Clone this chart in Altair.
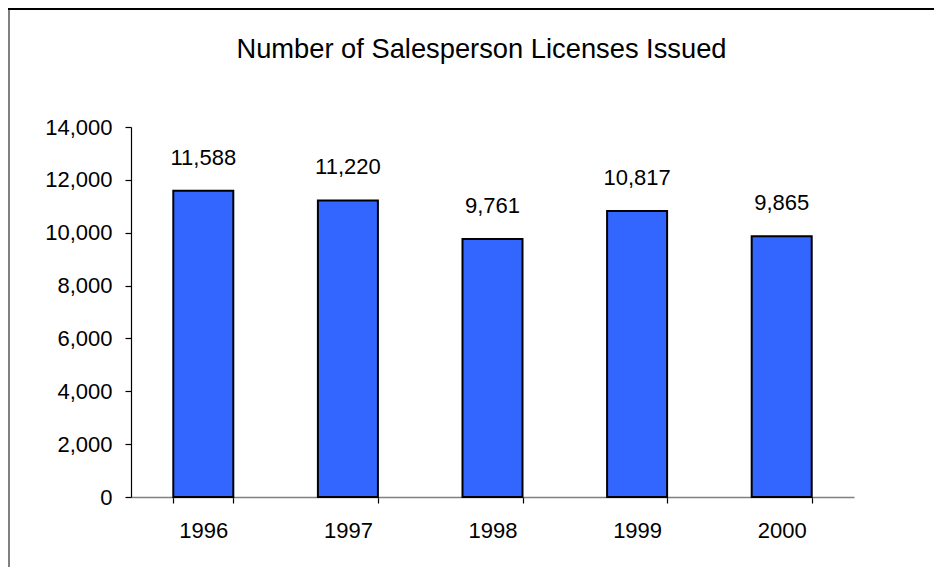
import altair as alt
import pandas as pd

years = ["1996", "1997", "1998", "1999", "2000"]
licenses = [11588, 11220, 9761, 10817, 9865]
y_ticks = [0, 2000, 4000, 6000, 8000, 10000, 12000, 14000]

df = pd.DataFrame({"year": years, "licenses": licenses})

FONT = "Liberation Sans"
W, H = 723, 370

x_enc = alt.X("year:N", sort=years, title=None,
              scale=alt.Scale(paddingInner=0.585, paddingOuter=0.2925),
              axis=alt.Axis(labelAngle=0, tickBand="extent", tickSize=6,
                            tickColor="#000000", domainColor="#808080",
                            domainWidth=1.5, tickWidth=1.2,
                            labelFont=FONT, labelFontSize=22, labelColor="#000000",
                            labelPadding=17))
y_enc = alt.Y("licenses:Q", title=None,
              scale=alt.Scale(domain=[0, 14000], nice=False),
              axis=alt.Axis(values=y_ticks, format=",.0f", tickSize=6, grid=False,
                            tickColor="#000000", domainColor="#000000",
                            domainWidth=1.2, tickWidth=1.2,
                            labelFont=FONT, labelFontSize=22, labelColor="#000000",
                            labelPadding=13))

base = alt.Chart(df)

bars = base.mark_bar(color="#3366FF", stroke="#000000", strokeWidth=2).encode(x=x_enc, y=y_enc)

labels = base.mark_text(font=FONT, fontSize=22, color="#000000",
                        baseline="alphabetic", dy=-26).encode(
    x=alt.X("year:N", sort=years),
    y=alt.Y("licenses:Q"),
    text=alt.Text("licenses:Q", format=","))

frame_left = alt.Chart(df).mark_rule(color="#808080", strokeWidth=2).encode(
    x=alt.value(-122), y=alt.value(-119), y2=alt.value(H + 200))
frame_top = alt.Chart(df).mark_rule(color="#000000", strokeWidth=2).encode(
    y=alt.value(-118), x=alt.value(-123), x2=alt.value(W + 200))

chart = alt.layer(frame_left, frame_top, bars, labels).properties(
    width=W, height=H,
    title=alt.TitleParams("Number of Salesperson Licenses Issued", font=FONT,
                          fontSize=27.3, fontWeight="normal", color="#000000",
                          anchor="middle", frame="group", dx=-11, offset=-78,
                          baseline="alphabetic"),
    autosize=alt.AutoSizeParams(type="none"),
    padding={"left": 123, "top": 119, "right": 80, "bottom": 70},
    background="#ffffff",
).configure_view(stroke=None)

chart.save("out.html", embed_options={"renderer": "svg", "actions": False})
